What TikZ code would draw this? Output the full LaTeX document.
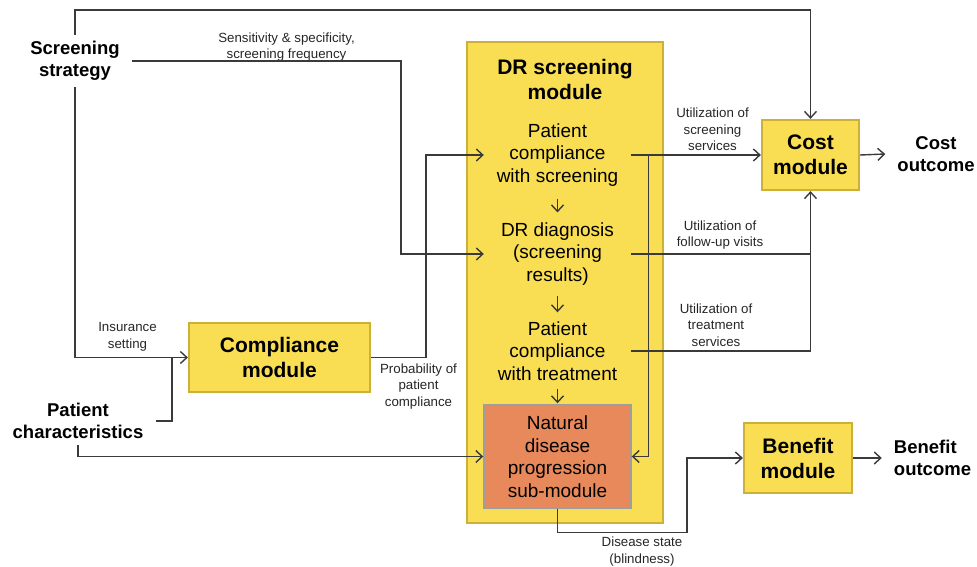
\documentclass[tikz,border=0pt]{standalone}
\usepackage{fontspec}
\setmainfont{Liberation Sans}
\usepackage{tikz}
\usetikzlibrary{arrows.meta}
\usetikzlibrary{positioning,calc}
\definecolor{modyellow}{RGB}{249,222,84}
\definecolor{modedge}{RGB}{205,176,58}
\definecolor{suborange}{RGB}{232,137,92}
\definecolor{subedge}{RGB}{158,158,158}
\definecolor{linegray}{RGB}{58,58,58}

\begin{document}
\begin{tikzpicture}[x=1pt,y=-1pt,
    arr/.style={-{Straight Barb[length=6.5pt,width=12pt]},linegray,line width=1.4pt},
    conn/.style={linegray,line width=1.4pt},
    module/.style={draw=modedge,fill=modyellow,line width=2.2pt,align=center,
      font=\fontsize{21}{25}\selectfont\bfseries},
    outer/.style={align=center,inner xsep=12pt,inner ysep=6pt,
      font=\fontsize{18.5}{22}\selectfont\bfseries},
    stage/.style={align=center,minimum width=147pt,inner sep=0pt,
      font=\fontsize{19}{22.5}\selectfont},
    note/.style={align=center,inner sep=0pt,text=black!85,
      font=\fontsize{13.3}{16.5}\selectfont}]
    \useasboundingbox (0,0) rectangle (977,567);

    \node[module,minimum width=196pt,minimum height=481pt] (dr) at (565,282.5) {};
    \node[font=\fontsize{21}{25}\selectfont\bfseries,align=center] (drtitle) at (565,79)
      {DR screening\\module};
    \node[stage] (pcs) at (557.5,155) {Patient\\compliance\\with screening};
    \node[stage] (diag) at (557.5,254) {DR diagnosis\\(screening\\results)};
    \node[stage] (pct) at (557.5,351) {Patient\\compliance\\with treatment};
    \node[stage,draw=subedge,fill=suborange,line width=1.4pt,minimum height=103pt]
      (nat) at (557.5,456.5) {Natural\\disease\\progression\\sub-module};

    \node[module,minimum width=181pt,minimum height=69pt] (comp) at (279.5,357.5)
      {Compliance\\module};
    \node[module,minimum width=97pt,minimum height=70pt] (cost) at (810.5,155)
      {Cost\\module};
    \node[module,minimum width=108pt,minimum height=70pt] (ben) at (798,458)
      {Benefit\\module};

    \node[outer] (strat) at (75,61) {Screening\\strategy};
    \node[outer] (pchar) at (78,421) {Patient\\characteristics};
    \node[outer] (costout) at (936,154) {Cost\\outcome};
    \node[outer,align=left] (benout) at (932.5,458) {Benefit\\outcome};

    \node[note] (sensnote) at (286.5,47) {Sensitivity \& specificity,\\screening frequency};
    \node[note] (insnote) at (127.5,337) {Insurance\\setting};
    \node[note] (probnote) at (418.5,386.5) {Probability of\\patient\\compliance};
    \node[note] (scrnote) at (712.5,129.5) {Utilization of\\screening\\services};
    \node[note] (funote) at (720,235) {Utilization of\\follow-up visits};
    \node[note] (trnote) at (716,325) {Utilization of\\treatment\\services};
    \node[note] (disnote) at (642,551.5) {Disease state\\(blindness)};

    \coordinate (topline) at (0,10);
    \draw[arr] (strat.north) |- (topline -| cost.north) -- (cost.north);
    \draw[arr] (strat.south) |- (comp.west);
    \draw[conn] (pchar.east) -| ($(comp.west)+(-16,0)$);
    \draw[arr] (pchar.south) |- (nat.west);
    \draw[arr] (strat.east) -| ($(diag.west)+(-83,0)$) -- (diag.west);
    \draw[arr] (comp.east) -| ($(pcs.west)+(-58,0)$) -- (pcs.west);

    \draw[arr,shorten <=12pt,shorten >=10pt] (pcs) -- (diag);
    \draw[arr,shorten <=10pt,shorten >=9pt] (diag) -- (pct);
    \draw[arr,shorten <=8pt,shorten >=1pt] (pct) -- (nat);

    \draw[arr] (pcs.east) -- (cost.west);
    \draw[arr] ($(pcs.east)+(17,0)$) |- (nat.east);
    \draw[conn] (diag.east) -- (diag.east -| cost.south);
    \draw[arr] (pct.east) -| (cost.south);
    \draw[arr] (cost.east) -- (costout.west);
    \draw[arr] (nat.south) -- ++(0,24) -| ($(ben.west)+(-56,0)$) -- (ben.west);
    \draw[arr] (ben.east) -- (benout.west);
  \end{tikzpicture}
\end{document}
